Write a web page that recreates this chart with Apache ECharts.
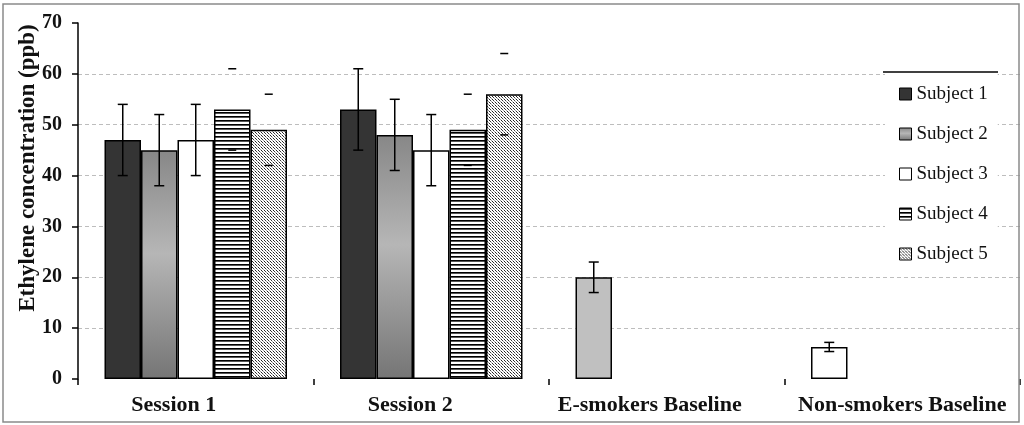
<!DOCTYPE html>
<html>
<head>
<meta charset="utf-8">
<script src="https://cdn.jsdelivr.net/npm/echarts@6/dist/echarts.min.js"></script>
<style>
  html, body { margin: 0; padding: 0; background: #fff; }
  #chart { width: 1024px; height: 425px; }
</style>
</head>
<body>
<div id="chart"></div>
<script>
// Ethylene concentration per session and subject, with the two baselines
const categories = ['Session 1', 'Session 2', 'E-smokers Baseline', 'Non-smokers Baseline'];
const subjects = ['Subject 1', 'Subject 2', 'Subject 3', 'Subject 4', 'Subject 5'];

// mean values (ppb); baselines sit in the first slot of their group
const subject1 = [47, 53, 20, 6.3];
const subject2 = [45, 48, null, null];
const subject3 = [47, 45, null, null];
const subject4 = [53, 49, null, null];
const subject5 = [49, 56, null, null];

// error half-widths (ppb)
const subject1Err = [7, 8, 3, 0.9];
const subject2Err = [7, 7, null, null];
const subject3Err = [7, 7, null, null];
const subject4Err = [8, 7, null, null];
const subject5Err = [7, 8, null, null];

const yTicks = [0, 10, 20, 30, 40, 50, 60, 70];
const yTitle = 'Ethylene concentration (ppb)';

const values = [subject1, subject2, subject3, subject4, subject5];
const errors = [subject1Err, subject2Err, subject3Err, subject4Err, subject5Err];

const SERIF = '"Liberation Serif", "Times New Roman", serif';
const BAR_W = 36.5;

// fill patterns
function stripePattern() {
  const c = document.createElement('canvas');
  c.width = 8; c.height = 4;
  const g = c.getContext('2d');
  g.fillStyle = '#fff'; g.fillRect(0, 0, 8, 4);
  g.fillStyle = '#000'; g.fillRect(0, 0, 8, 1);
  g.fillStyle = '#555'; g.fillRect(0, 1, 8, 1);
  return { image: c, repeat: 'repeat' };
}
function stipplePattern() {
  const c = document.createElement('canvas');
  c.width = 3; c.height = 3;
  const g = c.getContext('2d');
  g.fillStyle = '#fff'; g.fillRect(0, 0, 3, 3);
  g.fillStyle = '#222'; g.fillRect(0, 0, 1, 1);
  g.fillStyle = '#3a3a3a'; g.fillRect(1, 1, 1, 1);
  g.fillStyle = '#9a9a9a'; g.fillRect(2, 2, 1, 1);
  return { image: c, repeat: 'repeat' };
}

const fills = [
  '#343434',
  new echarts.graphic.LinearGradient(0, 0, 0, 1, [
    { offset: 0, color: '#878787' },
    { offset: 0.45, color: '#b6b6b6' },
    { offset: 1, color: '#757575' }
  ]),
  '#ffffff',
  stripePattern(),
  stipplePattern()
];
// only caps are shown for the patterned bars
const capsOnly = [false, false, false, true, true];
// baseline bars use their own fills
const baselineFill = { 2: '#c0c0c0', 3: '#ffffff' };

const barSeries = subjects.map((name, s) => ({
  name: name,
  type: 'bar',
  barWidth: BAR_W,
  barGap: '0%',
  z: 2,
  itemStyle: { color: fills[s], borderColor: '#000', borderWidth: 1.5 },
  data: values[s].map((v, i) => {
    if (v == null) return '-';
    if (s === 0 && baselineFill[i]) {
      return { value: v, itemStyle: { color: baselineFill[i] } };
    }
    return v;
  })
}));

const errSeries = subjects.map((name, s) => ({
  name: name + ' error',
  type: 'custom',
  z: 5,
  silent: true,
  data: values[s].map((v, i) => v == null ? null : [i, v, errors[s][i]]).filter(d => d),
  renderItem: function (params, api) {
    const cat = api.value(0), v = api.value(1), e = api.value(2);
    const hi = api.coord([cat, v + e]);
    const lo = api.coord([cat, v - e]);
    const x = hi[0] + (s - 2) * BAR_W;
    const half = capsOnly[s] ? 4 : 5;
    const style = { stroke: '#000', lineWidth: 1.5 };
    const children = [
      { type: 'line', shape: { x1: x - half, y1: hi[1], x2: x + half, y2: hi[1] }, style: style },
      { type: 'line', shape: { x1: x - half, y1: lo[1], x2: x + half, y2: lo[1] }, style: style }
    ];
    if (!capsOnly[s]) {
      children.push({ type: 'line', shape: { x1: x, y1: hi[1], x2: x, y2: lo[1] }, style: style });
    }
    return { type: 'group', children: children };
  }
}));

const labelStyle = (shift) => ({
  fontFamily: SERIF, fontWeight: 'bold', fontSize: 22, color: '#111', padding: [0, shift, 0, 0]
});

const chart = echarts.init(document.getElementById('chart'), null, { renderer: 'canvas' });
chart.setOption({
  animation: false,
  backgroundColor: '#fff',
  grid: { left: 78, right: 4, top: 23, bottom: 46, containLabel: false },
  xAxis: {
    type: 'category',
    data: categories,
    axisLine: { show: false },
    axisTick: { show: true, interval: 0, length: 6, lineStyle: { color: '#000', width: 1.5 } },
    axisLabel: {
      interval: 0,
      hideOverlap: false,
      margin: 15,
      fontFamily: SERIF,
      fontWeight: 'bold',
      fontSize: 22,
      color: '#111',
      formatter: (v, i) => '{c' + i + '|' + v + '}',
      rich: {
        c0: labelStyle(44),
        c1: labelStyle(42),
        c2: labelStyle(34),
        c3: labelStyle(0)
      }
    }
  },
  yAxis: {
    type: 'value',
    min: yTicks[0],
    max: yTicks[yTicks.length - 1],
    interval: 10,
    axisLine: { show: true, lineStyle: { color: '#000', width: 1.5 } },
    axisTick: { show: true, length: 6, lineStyle: { color: '#000', width: 1.5 } },
    axisLabel: {
      margin: 16,
      fontFamily: SERIF,
      fontWeight: 'bold',
      fontSize: 20,
      color: '#111'
    },
    splitLine: {
      show: true,
      showMinLine: false,
      showMaxLine: false,
      lineStyle: { color: '#bdbdbd', type: [4, 3], width: 1 }
    }
  },
  legend: {
    data: subjects,
    orient: 'vertical',
    left: 885,
    top: 72,
    padding: [12, 10, 4, 14],
    itemGap: 20,
    itemWidth: 12,
    itemHeight: 12,
    icon: 'rect',
    backgroundColor: '#fff',
    selectedMode: false,
    itemStyle: { borderWidth: 1 },
    textStyle: { fontFamily: SERIF, fontSize: 19, color: '#111', lineHeight: 20 }
  },
  graphic: [
    {
      type: 'text',
      x: 28, y: 168,
      rotation: Math.PI / 2,
      style: {
        text: yTitle,
        fontFamily: SERIF,
        fontWeight: 'bold',
        fontSize: 23,
        fill: '#111',
        align: 'center',
        verticalAlign: 'middle'
      }
    },
    {
      type: 'line',
      z: 100,
      shape: { x1: 883, y1: 72, x2: 998, y2: 72 },
      style: { stroke: '#000', lineWidth: 1.5 }
    },
    {
      type: 'rect',
      z: 100,
      shape: { x: 3, y: 4, width: 1016, height: 418 },
      style: { fill: null, stroke: '#8a8a8a', lineWidth: 1.5 }
    }
  ],
  series: barSeries.concat(errSeries)
});
</script>
</body>
</html>
